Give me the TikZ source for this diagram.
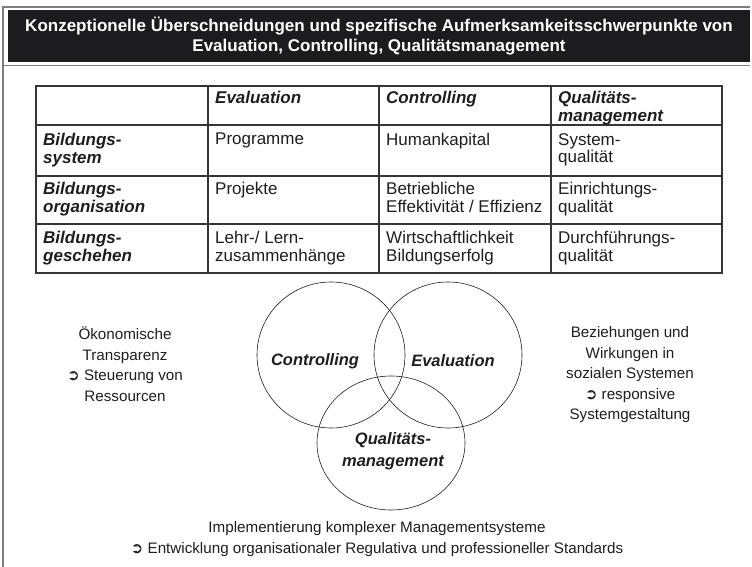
\documentclass[tikz,border=0pt]{standalone}
\usepackage{fontspec}
\setmainfont{Liberation Sans}
\newfontfamily\symfont{DejaVu Sans}
\usetikzlibrary{positioning,shapes.geometric}
\definecolor{bar}{RGB}{28,28,30}
\definecolor{rim}{RGB}{125,125,125}
\definecolor{ink}{RGB}{30,30,30}
\newcommand{\pfeil}{{\symfont\bfseries\char"27B2}}
\tikzset{
  title/.style={text=white,font=\fontsize{17}{20}\selectfont\bfseries,align=center},
  cell/.style={anchor=north west,inner sep=0pt,align=left,text=ink,
    font=\fontsize{17}{17.5}\selectfont},
  head/.style={cell,font=\fontsize{17}{17.5}\selectfont\bfseries\itshape},
  tabline/.style={draw=ink!90,line width=1.3pt},
  tabframe/.style={draw=ink!90,line width=2pt},
  venn/.style={ellipse,draw=ink,line width=0.6pt,minimum width=148pt,
    minimum height=146pt,inner sep=0pt},
  vlabel/.style={text=ink,font=\fontsize{16.5}{22}\selectfont\bfseries\itshape,align=center},
  note/.style={text=ink,font=\fontsize{15.2}{20.5}\selectfont,align=center},
}
\begin{document}
\begin{tikzpicture}[x=1pt,y=-1pt]
  \useasboundingbox (0,0) rectangle (752,567);
  % frame and title bar
  \draw[rim,line width=1.2pt] (3,567) |- (750,7);
  \fill[bar] (8,10) rectangle (750,62);
  \draw[rim,line width=1.2pt] (3,65.5) -- (750,65.5);
  \node[title] (title) at (379,36)
    {Konzeptionelle Überschneidungen und spezifische Aufmerksamkeitsschwerpunkte von\\
     Evaluation, Controlling, Qualitätsmanagement};

  % table
  \foreach \y in {125,176,224} \draw[tabline] (36,\y) -- (722,\y);
  \foreach \x in {208,379,551} \draw[tabline] (\x,86) -- (\x,273);
  \draw[tabframe] (36,86) rectangle (722,273);

  \node[head] (hEval) at (215,91) {Evaluation};
  \node[head] (hCtrl) at (386,91) {Controlling};
  \node[head] (hQual) at (558,91) {Qualitäts-\\management};

  \node[head] (rSys) at (43,133) {Bildungs-\\system};
  \node[cell] (sysEval) at (215,133) {Programme};
  \node[cell] (sysCtrl) at (386,133) {Humankapital};
  \node[cell] (sysQual) at (558,133) {System-\\qualität};

  \node[head] (rOrg) at (43,182) {Bildungs-\\organisation};
  \node[cell] (orgEval) at (215,182) {Projekte};
  \node[cell] (orgCtrl) at (386,182) {Betriebliche\\Effektivität / Effizienz};
  \node[cell] (orgQual) at (558,182) {Einrichtungs-\\qualität};

  \node[head] (rGes) at (43,231) {Bildungs-\\geschehen};
  \node[cell] (gesEval) at (215,231) {Lehr-/ Lern-\\zusammenhänge};
  \node[cell] (gesCtrl) at (386,231) {Wirtschaftlichkeit\\Bildungserfolg};
  \node[cell] (gesQual) at (558,231) {Durchführungs-\\qualität};

  % overlapping circles
  \node[venn] (ctrl) at (331,355) {};
  \node[venn] (eval) at (448,355) {};
  \node[venn,minimum height=134pt] (qual) at (391,443) {};
  \node[vlabel] (ctrlLabel) at (315,361) {Controlling};
  \node[vlabel] (evalLabel) at (453,361) {Evaluation};
  \node[vlabel] (qualLabel) at (393,451) {Qualitäts-\\management};

  % side and bottom notes
  \node[note] (oekon) at (125,364) {Ökonomische\\Transparenz\\\pfeil{} Steuerung von\\Ressourcen};
  \node[note] (sozial) at (630,375) {Beziehungen und\\Wirkungen in\\sozialen Systemen\\\pfeil{} responsive\\Systemgestaltung};
  \node[note] (mgmt) at (377,539) {Implementierung komplexer Managementsysteme\\
    \pfeil{} Entwicklung organisationaler Regulativa und professioneller Standards};
\end{tikzpicture}
\end{document}
